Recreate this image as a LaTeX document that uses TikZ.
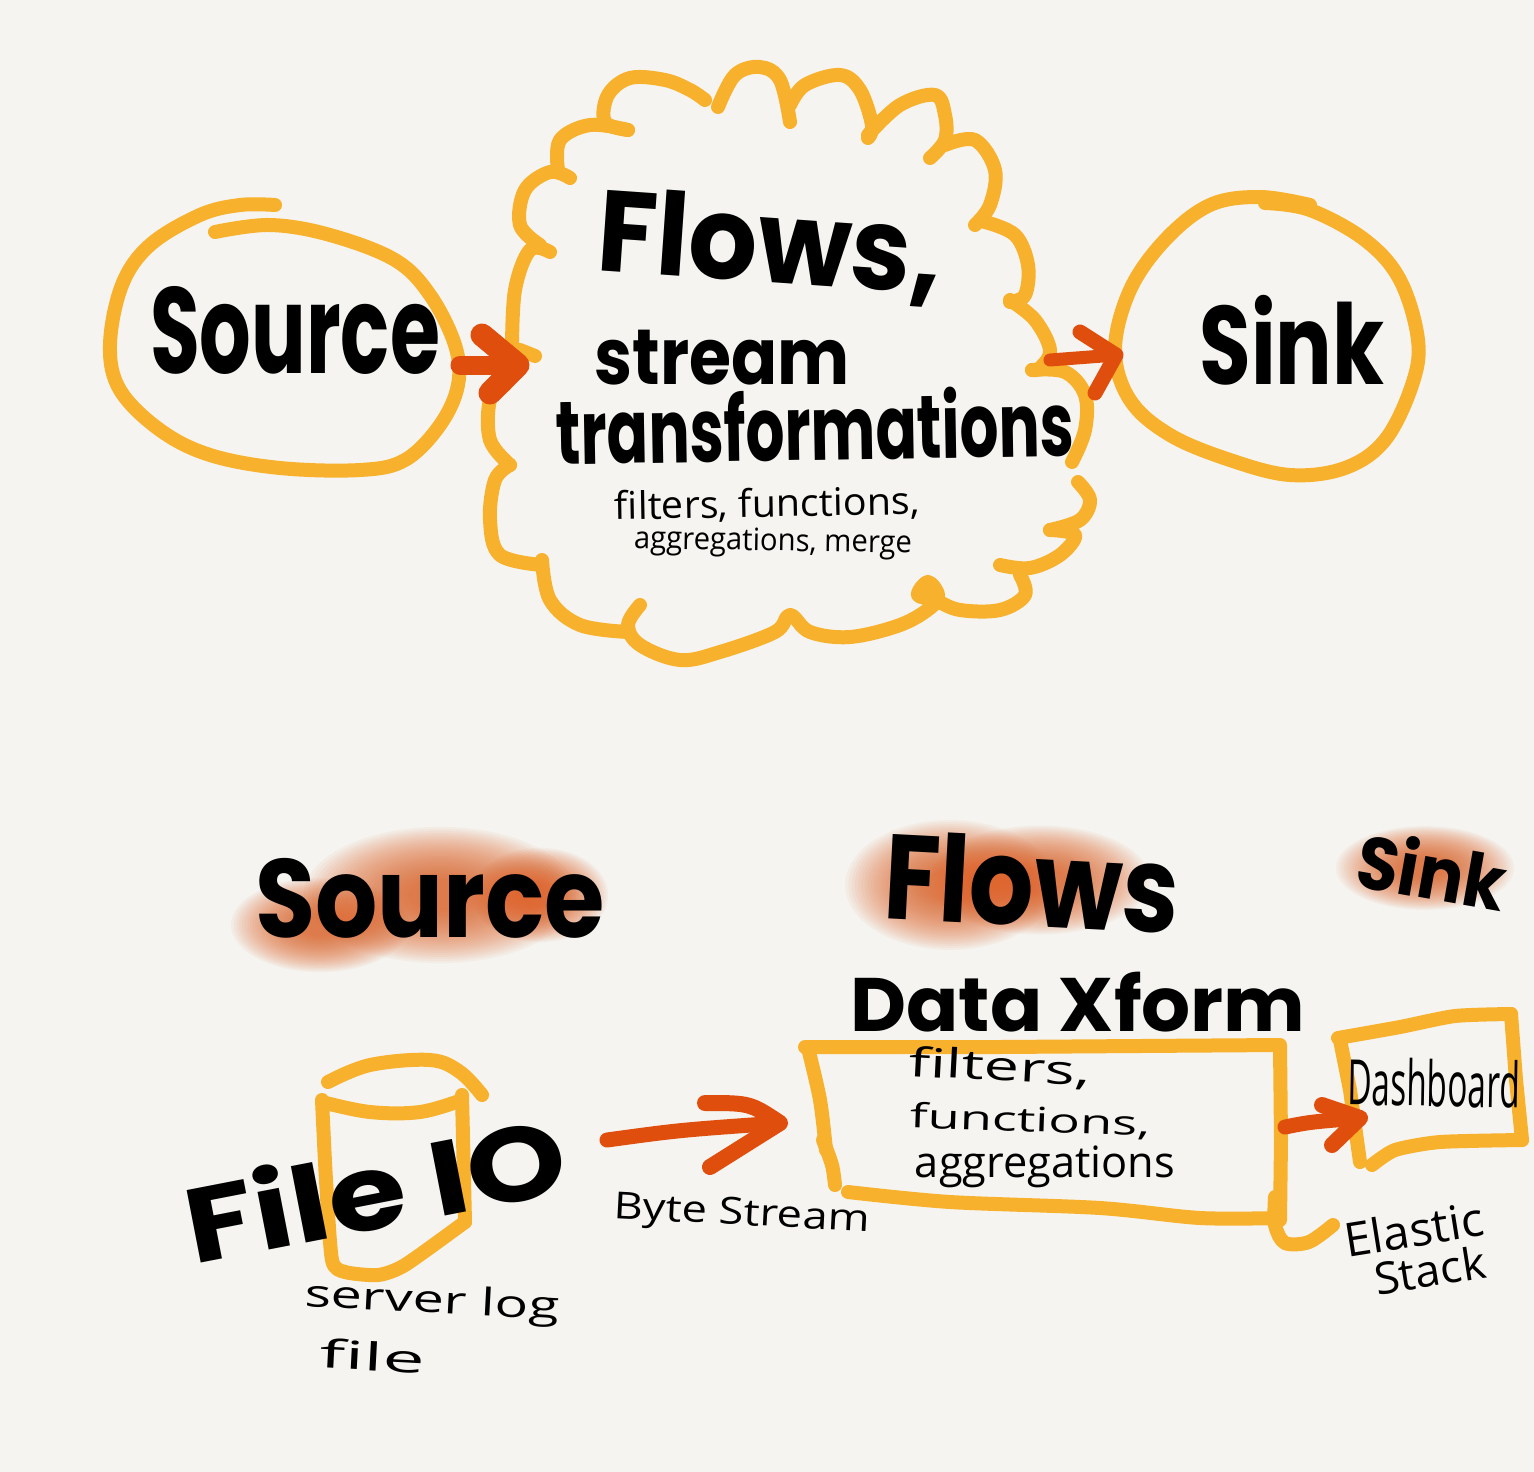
\documentclass[tikz,border=0pt]{standalone}
\usepackage{fontspec}
\usepackage{graphicx}
\newfontfamily\bigf{Poppins}
\newfontfamily\thinf{Open Sans}
\definecolor{bgc}{HTML}{F5F4F0}
\definecolor{sketch}{HTML}{F7B12C}
\definecolor{redo}{HTML}{E04E0E}
\definecolor{blurc}{HTML}{DE5A1E}
\newcommand{\blob}[4]{\foreach \k in {1,...,26}{\fill[blurc,opacity=0.05] (#1,#2) ellipse [x radius={#3*(1.08-\k*0.032)*1pt},y radius={#4*(1.08-\k*0.032)*1pt}];}}
\newcommand{\sk}[1]{\draw[strokeo] plot[smooth,tension=0.6] coordinates {#1};}
\tikzset{
  strokeo/.style={draw=sketch,line width=14pt,line cap=round,line join=round},
  arrowo/.style={draw=redo,line width=15pt,line cap=round,line join=round},
  heavy/.style={inner sep=0pt,text=black,font=\bigf\bfseries},
  fine/.style={inner sep=0pt,text=black,font=\thinf},
}
\begin{document}
\begin{tikzpicture}[x=1pt,y=-1pt]
\useasboundingbox (0,0) rectangle (1534,1472);
\fill[bgc] (0,0) rectangle (1534,1472);
% Source circle
\sk{(275,205)(240,205)(200,215)(150,245)(122,285)(110,345)(120,390)(160,430)(210,455)(280,468)(360,470)(405,460)(440,425)(458,385)(455,345)(430,295)(395,260)(330,235)(270,225)(215,232)}
% Sink circle
\sk{(1310,205)(1260,197)(1210,205)(1165,240)(1130,290)(1115,350)(1130,400)(1170,435)(1230,460)(1290,475)(1345,468)(1385,440)(1412,385)(1418,340)(1400,280)(1365,240)(1310,210)(1265,203)}
% Cloud
\sk{(628,130)(605,122)(608,95)(630,78)(665,80)(690,90)(705,100)}
\sk{(718,107)(735,75)(760,67)(780,80)(790,122)}
\sk{(790,105)(805,85)(840,75)(860,90)(872,125)(868,138)}
\sk{(868,135)(900,105)(935,95)(945,115)(945,140)(930,158)}
\sk{(945,145)(975,140)(995,170)(990,205)(975,225)}
\sk{(985,222)(1015,235)(1028,265)(1025,295)(1010,302)}
\sk{(1010,300)(1035,320)(1050,350)(1040,368)(1032,370)}
\sk{(1032,370)(1065,372)(1085,395)(1085,430)(1072,462)}
\sk{(1078,482)(1090,500)(1080,520)(1050,530)}
\sk{(1050,530)(1075,535)(1060,555)(1030,568)(1000,565)}
\sk{(1020,575)(1025,595)(1000,610)(960,610)(935,600)(918,595)(928,582)(938,595)(930,608)(900,625)(850,637)(810,632)(790,615)(775,632)(720,652)(680,660)(640,645)(628,625)(640,605)}
\sk{(628,632)(580,625)(550,600)(542,560)}
\sk{(542,565)(500,555)(490,520)(495,480)(510,465)}
\sk{(510,465)(490,440)(490,400)(505,385)}
\sk{(512,350)(515,290)(530,250)(550,252)}
\sk{(520,350)(535,356)}
\sk{(540,245)(520,225)(525,190)(550,172)(570,178)}
\sk{(558,170)(560,140)(590,125)(628,130)}
% Top labels
\node[heavy] (srcT) at (295,330) {\resizebox*{290pt}{88pt}{Source}};
\node[heavy] (sinkT) at (1292,340) {\resizebox*{185pt}{90pt}{Sink}};
\node[heavy,rotate=-4] (flowsT) at (770,247) {\resizebox*{345pt}{100pt}{Flows,}};
\node[heavy] (streamT) at (722,358) {\resizebox*{255pt}{55pt}{stream}};
\node[heavy,rotate=1] (transT) at (815,425) {\resizebox*{518pt}{72pt}{transformations}};
\node[fine,rotate=1] (fT) at (767,505) {\resizebox*{305pt}{34pt}{filters, functions,}};
\node[fine,rotate=-1] (aT) at (773,543) {\resizebox*{278pt}{30pt}{aggregations, merge}};
% Top arrows
\coordinate (a1s) at (460,365); \coordinate (a1e) at (518,365);
\coordinate (a1u) at (482,335); \coordinate (a1d) at (490,393);
\draw[arrowo,line width=19pt] (a1s) -- (a1e);
\draw[arrowo,line width=23pt] (a1u) -- (a1e) -- (a1d);
\coordinate (a2s) at (1050,360); \coordinate (a2e) at (1116,355);
\coordinate (a2u) at (1080,332); \coordinate (a2d) at (1095,393);
\draw[arrowo,line width=13pt] (a2s) -- (a2e);
\draw[arrowo,line width=15pt] (a2u) -- (a2e) -- (a2d);
% Blurs
\blob{320}{925}{85}{45}
\blob{440}{895}{130}{65}
\blob{540}{895}{65}{45}
\blob{950}{885}{100}{62}
\blob{1040}{880}{105}{52}
\blob{1425}{868}{85}{40}
% Edge that cuts the Flows blur
\fill[bgc] (850,975) .. controls (900,952) and (970,950) .. (1150,950) -- (1150,975) -- cycle;
% Bottom headings
\node[heavy] (srcB) at (430,898) {\resizebox*{350pt}{80pt}{Source}};
\node[heavy,rotate=-3] (flowsB) at (1032,882) {\resizebox*{295pt}{90pt}{Flows}};
\node[heavy,rotate=-10] (sinkB) at (1432,870) {\resizebox*{150pt}{60pt}{Sink}};
\node[heavy] (xform) at (1078,1002) {\resizebox*{455pt}{60pt}{Data Xform}};
% Cylinder
\sk{(328,1082)(370,1065)(430,1060)(460,1072)(482,1095)}
\sk{(322,1102)(370,1112)(420,1112)(462,1100)}
\draw[strokeo] plot[smooth,tension=0.4] coordinates {(322,1100)(326,1180)(332,1260)(345,1272)(378,1275)(405,1265)(465,1222)};
\draw[strokeo] (465,1222) -- (462,1095);
% Rectangle
\draw[strokeo] (805,1047) -- (1000,1047) -- (1280,1045) -- (1281,1140) -- (1280,1220);
\draw[strokeo] plot[smooth,tension=0.5] coordinates {(1275,1197)(1275,1225)(1285,1243)(1309,1242)(1333,1225)};
\draw[strokeo] plot[smooth,tension=0.5] coordinates {(808,1048)(820,1100)(826,1150)};
\draw[strokeo] plot[smooth,tension=0.5] coordinates {(823,1140)(832,1165)(835,1185)};
\draw[strokeo] plot[smooth,tension=0.5] coordinates {(848,1192)(950,1202)(1100,1208)(1200,1218)(1280,1218)};
% Dashboard
\draw[strokeo] plot[smooth,tension=0.4] coordinates {(1338,1038)(1400,1027)(1455,1016)(1511,1014)};
\draw[strokeo] (1511,1014) -- (1516,1080) -- (1522,1140);
\draw[strokeo] plot[smooth,tension=0.4] coordinates {(1522,1140)(1440,1142)(1395,1150)(1372,1165)};
\draw[strokeo] (1340,1040) -- (1350,1090) -- (1360,1162);
% Bottom arrows
\coordinate (a3s) at (607,1140); \coordinate (a3m) at (680,1130); \coordinate (a3e) at (780,1123);
\coordinate (a3u) at (705,1103); \coordinate (a3d) at (710,1167);
\draw[arrowo] (a3s) .. controls (a3m) .. (a3e);
\draw[arrowo,line width=16pt] (a3u) .. controls (750,1103) .. (a3e) -- (a3d);
\coordinate (a4s) at (1285,1127); \coordinate (a4e) at (1360,1118);
\coordinate (a4u) at (1322,1105); \coordinate (a4d) at (1332,1145);
\draw[arrowo] (a4s) .. controls (1310,1122) .. (a4e);
\draw[arrowo,line width=16pt] (a4u) -- (a4e) -- (a4d);
% Bottom labels
\node[heavy,rotate=11] (fileio) at (375,1187) {\resizebox*{385pt}{85pt}{File IO}};
\node[fine,rotate=-3] (serv) at (432,1303) {\resizebox*{255pt}{38pt}{server log}};
\node[fine,rotate=-3] (filet) at (373,1356) {\resizebox*{105pt}{30pt}{file}};
\node[fine,rotate=-3] (byte) at (742,1216) {\resizebox*{256pt}{36pt}{Byte Stream}};
\node[fine,rotate=-3] (f2) at (1000,1068) {\resizebox*{182pt}{36pt}{filters,}};
\node[fine,rotate=-2] (f3) at (1030,1121) {\resizebox*{240pt}{30pt}{functions,}};
\node[fine] (f4) at (1045,1167) {\resizebox*{260pt}{42pt}{aggregations}};
\node[fine,rotate=-1] (dash) at (1434,1083) {\resizebox*{172pt}{48pt}{Dashboard}};
\node[fine,rotate=9] (el) at (1414,1229) {\resizebox*{140pt}{36pt}{Elastic}};
\node[fine,rotate=9] (st) at (1430,1270) {\resizebox*{112pt}{34pt}{Stack}};
\end{tikzpicture}
\end{document}
